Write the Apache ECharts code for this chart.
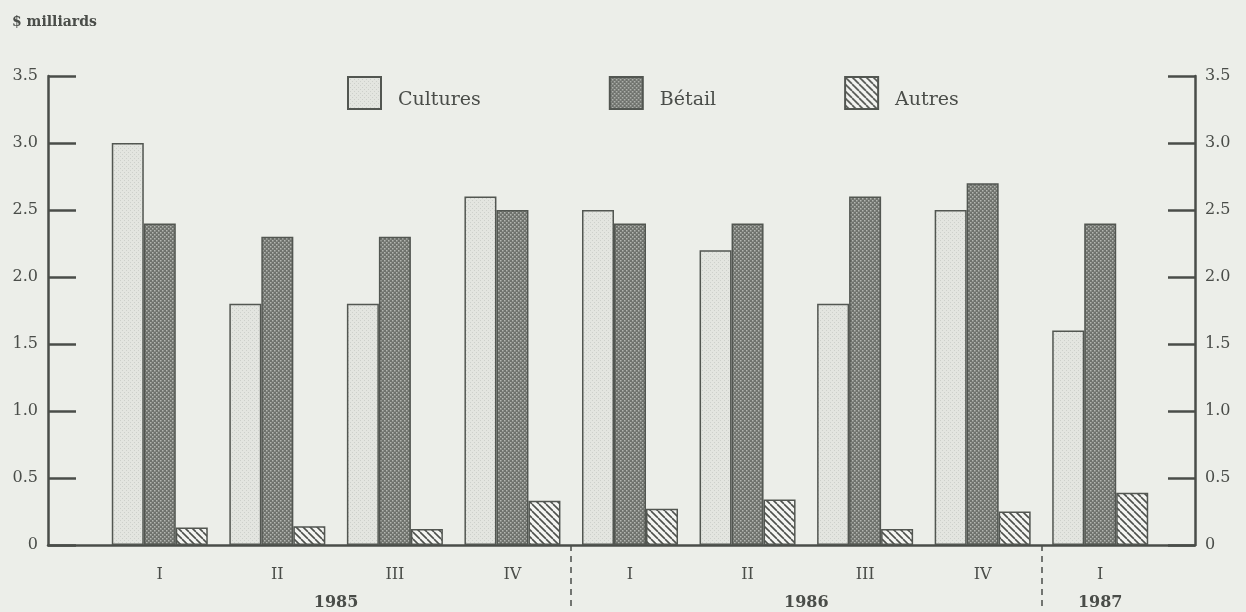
<!DOCTYPE html>
<html>
<head>
<meta charset="utf-8">
<script src="https://cdn.jsdelivr.net/npm/echarts@6/dist/echarts.min.js"></script>
<style>
html,body{margin:0;padding:0;background:#eceee9;}
#chart{width:1246px;height:612px;}
</style>
</head>
<body>
<div id="chart"></div>
<script>
// ---- data ----
const quarters = ['I', 'II', 'III', 'IV', 'I', 'II', 'III', 'IV', 'I'];
const years = ['1985', '1986', '1987'];
const yearCenters = [1.5, 5.5, 8];      // category positions of the year labels
const yearSeparators = [3.5, 7.5];      // category positions of dashed separators
const cultures = [3.0, 1.8, 1.8, 2.6, 2.5, 2.2, 1.8, 2.5, 1.6];
const betail   = [2.4, 2.3, 2.3, 2.5, 2.4, 2.4, 2.6, 2.7, 2.4];
const autres   = [0.13, 0.14, 0.12, 0.33, 0.27, 0.34, 0.12, 0.25, 0.39];
const seriesNames = ['Cultures', 'Bétail', 'Autres'];

// ---- patterns ----
function makePattern(w, h, bg, draw) {
  const c = document.createElement('canvas');
  c.width = w; c.height = h;
  const ctx = c.getContext('2d');
  ctx.fillStyle = bg; ctx.fillRect(0, 0, w, h);
  draw(ctx);
  return { image: c, repeat: 'repeat' };
}
const patCultures = makePattern(4, 4, '#e3e5e0', ctx => {
  ctx.fillStyle = '#cdd0cb';
  ctx.fillRect(0, 0, 1, 1); ctx.fillRect(2, 2, 1, 1);
});
const patBetail = makePattern(4, 4, '#6f726d', ctx => {
  ctx.fillStyle = '#b3b6b1';
  ctx.fillRect(0, 0, 1.5, 1.5); ctx.fillRect(2, 2, 1.5, 1.5);
});
const patAutres = makePattern(7, 7, '#f4f5f2', ctx => {
  ctx.strokeStyle = '#4d504c'; ctx.lineWidth = 1.6;
  for (const x0 of [-7, 0, 7]) {
    ctx.beginPath(); ctx.moveTo(x0, 0); ctx.lineTo(x0 + 7, 7); ctx.stroke();
  }
});

const FONT = "'DejaVu Serif', 'Liberation Serif', serif";
const INK = '#4a4d49';
const fmt = v => (v === 0 ? '0' : v.toFixed(1));

const chart = echarts.init(document.getElementById('chart'));
chart.setOption({
  backgroundColor: '#eceee9',
  animation: false,
  title: {
    text: '$ milliards', left: 7, top: 10,
    textStyle: { fontFamily: FONT, fontSize: 14, fontWeight: 'bold', color: INK }
  },
  legend: {
    left: 342, top: 71,
    itemWidth: 33, itemHeight: 32, itemGap: 128,
    icon: 'rect',
    formatter: name => '{t|' + name + '}',
    textStyle: {
      fontFamily: FONT, fontSize: 19, color: INK,
      rich: { t: { fontFamily: FONT, fontSize: 19, color: INK, padding: [14, 0, 0, 12] } }
    },
    data: seriesNames
  },
  grid: [
    { left: 48, right: 51, top: 76, bottom: 67 },
    { left: 101, right: 87, top: 76, bottom: 67 }
  ],
  xAxis: [
    { // full-width baseline
      gridIndex: 0, type: 'value', min: 0, max: 1,
      axisLine: { show: true, lineStyle: { color: INK, width: 2.5 } },
      axisTick: { show: false }, axisLabel: { show: false }, splitLine: { show: false }
    },
    { // quarters
      gridIndex: 1, type: 'category', data: quarters, position: 'bottom',
      axisLine: { show: false }, axisTick: { show: false },
      axisLabel: { margin: 22, fontFamily: FONT, fontSize: 16, color: INK }
    },
    { // years and separators
      gridIndex: 1, type: 'value', min: -0.5, max: 8.5, position: 'bottom',
      axisLine: { show: false }, splitLine: { show: false },
      axisTick: {
        show: true, customValues: yearSeparators, length: 64,
        lineStyle: { color: INK, width: 1.5, type: [6, 5] }
      },
      axisLabel: {
        customValues: yearCenters, margin: 50,
        fontFamily: FONT, fontSize: 16, fontWeight: 'bold', color: INK,
        formatter: v => years[yearCenters.indexOf(v)] || ''
      }
    }
  ],
  yAxis: [
    {
      gridIndex: 0, type: 'value', position: 'left', min: 0, max: 3.5, interval: 0.5,
      axisLine: { show: true, lineStyle: { color: INK, width: 2.5 } },
      axisTick: { show: true, inside: true, length: 28, lineStyle: { color: INK, width: 2.5 } },
      axisLabel: { margin: 10, fontFamily: FONT, fontSize: 16, color: INK, formatter: fmt },
      splitLine: { show: false }
    },
    {
      gridIndex: 0, type: 'value', position: 'right', min: 0, max: 3.5, interval: 0.5,
      axisLine: { show: true, lineStyle: { color: INK, width: 2.5 } },
      axisTick: { show: true, inside: true, length: 27, lineStyle: { color: INK, width: 2.5 } },
      axisLabel: { margin: 10, fontFamily: FONT, fontSize: 16, color: INK, formatter: fmt },
      splitLine: { show: false }
    },
    {
      gridIndex: 1, type: 'value', min: 0, max: 3.5, show: false
    }
  ],
  series: [
    {
      name: seriesNames[0], type: 'bar', xAxisIndex: 1, yAxisIndex: 2,
      data: cultures, barWidth: 32, barGap: '0%',
      itemStyle: { color: patCultures, borderColor: '#525651', borderWidth: 1.5 }
    },
    {
      name: seriesNames[1], type: 'bar', xAxisIndex: 1, yAxisIndex: 2,
      data: betail, barWidth: 32, barGap: '0%',
      itemStyle: { color: patBetail, borderColor: '#525651', borderWidth: 1.5 }
    },
    {
      name: seriesNames[2], type: 'bar', xAxisIndex: 1, yAxisIndex: 2,
      data: autres, barWidth: 32, barGap: '0%',
      itemStyle: { color: patAutres, borderColor: '#525651', borderWidth: 1.5 }
    }
  ]
});
</script>
</body>
</html>
